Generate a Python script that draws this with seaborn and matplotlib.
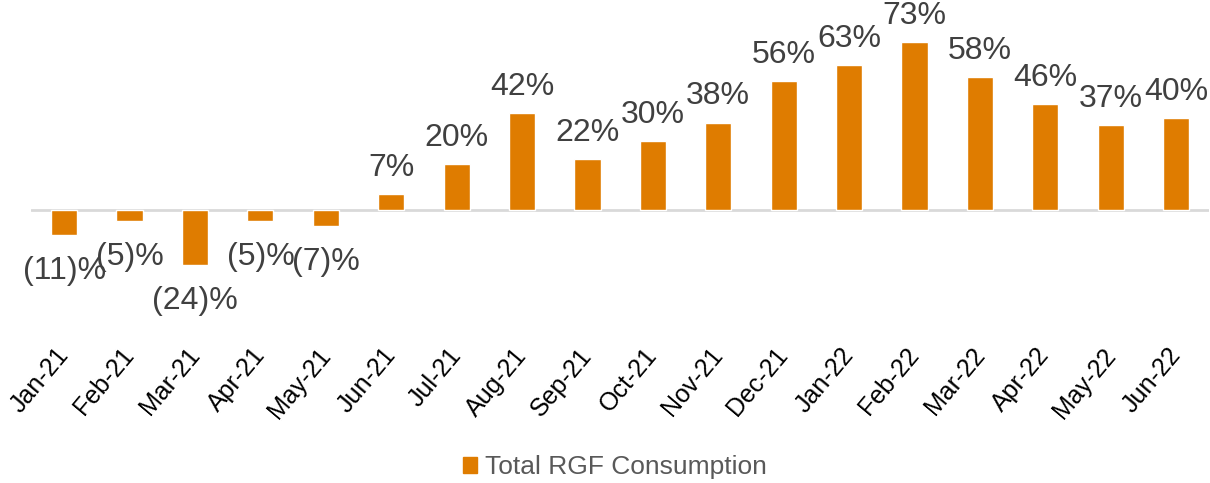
import matplotlib
matplotlib.use('Agg')
import matplotlib.pyplot as plt
import matplotlib.patches as mpatches
import matplotlib.transforms as mtransforms
import pandas as pd
import seaborn as sns

months = ['Jan-21', 'Feb-21', 'Mar-21', 'Apr-21', 'May-21', 'Jun-21', 'Jul-21', 'Aug-21',
          'Sep-21', 'Oct-21', 'Nov-21', 'Dec-21', 'Jan-22', 'Feb-22', 'Mar-22', 'Apr-22',
          'May-22', 'Jun-22']
growth = [-11, -5, -24, -5, -7, 7, 20, 42, 22, 30, 38, 56, 63, 73, 58, 46, 37, 40]
series_name = 'Total RGF Consumption'

sns.set_style('white')
plt.rcParams['font.family'] = ['Liberation Sans', 'DejaVu Sans']

bar_color = '#DF7C00'
df = pd.DataFrame({'month': months, 'growth': growth})

fig = plt.figure(figsize=(12.1, 4.83), dpi=100)
ax = fig.add_axes([0.026, 0.375, 0.973, 0.571])
sns.barplot(data=df, x='month', y='growth', color=bar_color, width=0.4,
            saturation=1, ax=ax)

ax.set_ylim(-40, 80)
ax.set_xlim(-0.5, len(months) - 0.5)
ax.axhline(0, color='#D9D9D9', linewidth=2, zorder=0)
for s in ax.spines.values():
    s.set_visible(False)
ax.set_yticks([])
ax.set_xlabel('')
ax.set_ylabel('')
ax.tick_params(axis='x', length=0, pad=30)
# shift tick labels a little to the left so they end near the bar centre
shift = mtransforms.ScaledTranslation(-0.09, 0, fig.dpi_scale_trans)
for lab in ax.get_xticklabels():
    lab.set_rotation(50)
    lab.set_ha('right')
    lab.set_rotation_mode('anchor')
    lab.set_fontsize(18)
    lab.set_color('black')
    lab.set_transform(lab.get_transform() + shift)

for i, v in enumerate(growth):
    if v >= 0:
        ax.annotate(f'{v}%', (i, v), xytext=(0, 8), textcoords='offset points',
                    ha='center', va='bottom', fontsize=23, color='#404040')
    else:
        ax.annotate(f'({-v})%', (i, v), xytext=(0, -15), textcoords='offset points',
                    ha='center', va='top', fontsize=23, color='#404040')

handle = mpatches.Patch(color=bar_color, label=series_name)
fig.legend(handles=[handle], loc='center', bbox_to_anchor=(0.508, 0.033),
           frameon=False, fontsize=19, labelcolor='#595959',
           handlelength=0.55, handleheight=0.55, handletextpad=0.3)

fig.savefig('out.png', dpi=100)
